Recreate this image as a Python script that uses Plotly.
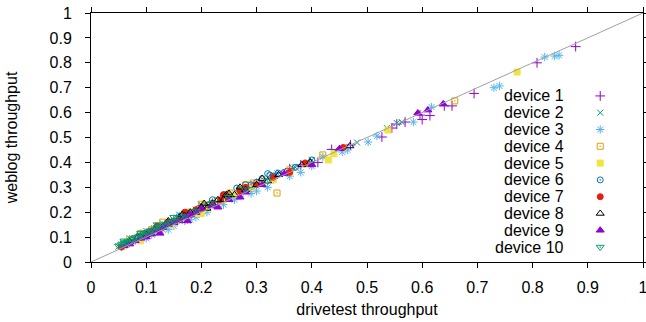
import plotly.graph_objects as go

# ---------------- data ----------------
device_names = ["device 1", "device 2", "device 3", "device 4", "device 5",
                "device 6", "device 7", "device 8", "device 9", "device 10"]

x1 = [0.06, 0.08, 0.10, 0.12, 0.14, 0.17, 0.20, 0.23, 0.26, 0.29, 0.30, 0.33, 0.36, 0.38,
      0.411, 0.436, 0.47, 0.527, 0.545, 0.554, 0.569, 0.596, 0.60, 0.614, 0.64, 0.654, 0.694, 0.808, 0.878,
      0.09, 0.15, 0.21, 0.25, 0.07, 0.11, 0.19, 0.24, 0.27]
y1 = [0.07, 0.09, 0.115, 0.13, 0.155, 0.18, 0.215, 0.24, 0.265, 0.30, 0.315, 0.335, 0.375, 0.39,
      0.40, 0.452, 0.47, 0.502, 0.538, 0.554, 0.562, 0.59, 0.572, 0.588, 0.627, 0.627, 0.677, 0.80, 0.865,
      0.11, 0.17, 0.22, 0.27, 0.085, 0.125, 0.20, 0.25, 0.28]

x2 = [0.05, 0.055, 0.06, 0.065, 0.07, 0.08, 0.085, 0.09, 0.10, 0.11, 0.12, 0.13, 0.14, 0.15, 0.16,
      0.18, 0.19, 0.21, 0.23, 0.25, 0.27, 0.29, 0.31, 0.33, 0.366, 0.37, 0.40, 0.44, 0.482, 0.536,
      0.554, 0.563, 0.058, 0.075, 0.095, 0.115, 0.135, 0.17, 0.20, 0.24,
      0.07, 0.10, 0.13, 0.16, 0.20]
y2 = [0.062, 0.07, 0.072, 0.08, 0.085, 0.093, 0.10, 0.105, 0.115, 0.125, 0.135, 0.145, 0.155, 0.165, 0.18,
      0.20, 0.21, 0.225, 0.25, 0.265, 0.29, 0.305, 0.32, 0.34, 0.378, 0.38, 0.41, 0.445, 0.48, 0.538,
      0.558, 0.562, 0.078, 0.095, 0.115, 0.135, 0.15, 0.195, 0.225, 0.26,
      0.095, 0.125, 0.155, 0.19, 0.23]

x3 = [0.055, 0.07, 0.09, 0.11, 0.13, 0.15, 0.17, 0.19, 0.21, 0.24, 0.27, 0.30, 0.32, 0.337, 0.36,
      0.38, 0.40, 0.42, 0.455, 0.465, 0.502, 0.518, 0.584, 0.617, 0.73, 0.74, 0.822, 0.84, 0.848,
      0.08, 0.12, 0.16, 0.22, 0.10, 0.14, 0.18, 0.26, 0.29]
y3 = [0.06, 0.075, 0.095, 0.11, 0.13, 0.145, 0.165, 0.18, 0.20, 0.23, 0.265, 0.285, 0.30, 0.357, 0.345,
      0.36, 0.385, 0.422, 0.442, 0.45, 0.482, 0.506, 0.562, 0.622, 0.70, 0.707, 0.823, 0.827, 0.83,
      0.09, 0.14, 0.185, 0.24, 0.095, 0.13, 0.17, 0.25, 0.275]

x4 = [0.06, 0.08, 0.10, 0.12, 0.14, 0.176, 0.19, 0.21, 0.23, 0.246, 0.252, 0.27, 0.294, 0.31,
      0.337, 0.36, 0.39, 0.42, 0.659, 0.07, 0.11, 0.155, 0.09, 0.13, 0.20, 0.28]
y4 = [0.072, 0.095, 0.112, 0.135, 0.155, 0.20, 0.20, 0.228, 0.245, 0.269, 0.277, 0.29, 0.317, 0.325,
      0.277, 0.37, 0.395, 0.43, 0.647, 0.09, 0.13, 0.175, 0.115, 0.16, 0.232, 0.31]

x5 = [0.06, 0.08, 0.10, 0.12, 0.145, 0.17, 0.19, 0.22, 0.24, 0.26, 0.29, 0.31, 0.33, 0.36,
      0.43, 0.44, 0.538, 0.772, 0.07, 0.11, 0.155, 0.205, 0.09, 0.20, 0.27]
y5 = [0.065, 0.09, 0.11, 0.135, 0.15, 0.18, 0.195, 0.235, 0.25, 0.27, 0.30, 0.315, 0.33, 0.36,
      0.41, 0.435, 0.53, 0.763, 0.078, 0.118, 0.165, 0.215, 0.085, 0.195, 0.295]

x6 = [0.06, 0.09, 0.12, 0.15, 0.18, 0.212, 0.24, 0.264, 0.27, 0.29, 0.30, 0.31, 0.324, 0.33,
      0.339, 0.35, 0.37, 0.40, 0.075, 0.105, 0.135, 0.165, 0.195, 0.22, 0.28, 0.32]
y6 = [0.07, 0.10, 0.13, 0.165, 0.195, 0.229, 0.27, 0.297, 0.29, 0.31, 0.32, 0.335, 0.349, 0.345,
      0.357, 0.36, 0.38, 0.41, 0.09, 0.12, 0.15, 0.185, 0.215, 0.25, 0.31, 0.355]

x7 = [0.055, 0.07, 0.09, 0.11, 0.13, 0.16, 0.18, 0.20, 0.22, 0.25, 0.27, 0.30, 0.33, 0.36, 0.388, 0.457,
      0.065, 0.10, 0.14, 0.19, 0.235, 0.28, 0.12, 0.17, 0.24]
y7 = [0.06, 0.08, 0.10, 0.12, 0.14, 0.17, 0.19, 0.215, 0.235, 0.26, 0.285, 0.31, 0.34, 0.36, 0.398, 0.46,
      0.075, 0.115, 0.16, 0.21, 0.25, 0.30, 0.145, 0.20, 0.27]

x8 = [0.07, 0.10, 0.13, 0.15, 0.17, 0.18, 0.19, 0.20, 0.21, 0.22, 0.24, 0.26, 0.28, 0.30, 0.32,
      0.34, 0.382, 0.397, 0.469, 0.085, 0.115, 0.14, 0.16, 0.23, 0.25,
      0.165, 0.205, 0.245, 0.27, 0.31]
y8 = [0.08, 0.11, 0.14, 0.16, 0.185, 0.20, 0.20, 0.22, 0.215, 0.235, 0.25, 0.27, 0.29, 0.31, 0.325,
      0.35, 0.39, 0.40, 0.466, 0.10, 0.13, 0.165, 0.18, 0.25, 0.275,
      0.19, 0.235, 0.27, 0.30, 0.335]

x9 = [0.06, 0.08, 0.10, 0.12, 0.14, 0.16, 0.18, 0.20, 0.22, 0.25, 0.28, 0.31, 0.35, 0.40, 0.45,
      0.592, 0.61, 0.638, 0.07, 0.09, 0.11, 0.13, 0.15, 0.17, 0.19, 0.125, 0.175, 0.23, 0.27]
y9 = [0.065, 0.085, 0.10, 0.125, 0.15, 0.165, 0.19, 0.215, 0.225, 0.25, 0.28, 0.31, 0.355, 0.39, 0.455,
      0.598, 0.61, 0.635, 0.072, 0.095, 0.112, 0.14, 0.158, 0.18, 0.198, 0.115, 0.165, 0.22, 0.26]

x10 = [0.05, 0.06, 0.07, 0.075, 0.085, 0.095, 0.105, 0.115, 0.125, 0.135, 0.15, 0.17, 0.19, 0.22,
       0.25, 0.28, 0.32, 0.055, 0.065, 0.08, 0.09, 0.10, 0.11, 0.12, 0.14, 0.16,
       0.06, 0.09, 0.12, 0.15]
y10 = [0.065, 0.075, 0.082, 0.09, 0.098, 0.11, 0.12, 0.13, 0.14, 0.15, 0.165, 0.185, 0.205, 0.235,
       0.26, 0.29, 0.325, 0.07, 0.08, 0.098, 0.108, 0.118, 0.128, 0.14, 0.158, 0.178,
       0.085, 0.115, 0.15, 0.18]

diagonal = [0, 1]
tick_vals = [0, 0.1, 0.2, 0.3, 0.4, 0.5, 0.6, 0.7, 0.8, 0.9, 1]
tick_text = ["0", "0.1", "0.2", "0.3", "0.4", "0.5", "0.6", "0.7", "0.8", "0.9", "1"]
legend_rows = list(range(1, 11))

# ---------------- styles ----------------
colors = ["#9400D3", "#009E73", "#56B4E9", "#E69F00", "#F0E442",
          "#0072B2", "#E51E10", "#000000", "#9400D3", "#009E73"]
symbols = ["cross-thin-open", "x-thin-open", "asterisk-open", "square-open-dot", "square",
           "circle-open-dot", "circle", "triangle-up-open", "triangle-up", "triangle-down-open-dot"]
sizes = [7, 6, 7, 6, 6, 6, 6, 7, 7, 7]

xs = [x1, x2, x3, x4, x5, x6, x7, x8, x9, x10]
ys = [y1, y2, y3, y4, y5, y6, y7, y8, y9, y10]

FONT = "Liberation Sans, Arial, sans-serif"

fig = go.Figure()
for i in range(10):
    fig.add_trace(go.Scatter(
        x=xs[i], y=ys[i], mode="markers", name=device_names[i], showlegend=False,
        marker=dict(symbol=symbols[i], size=sizes[i], color=colors[i],
                    line=dict(width=1, color=colors[i])),
        xaxis="x", yaxis="y", hoverinfo="skip"))

fig.add_trace(go.Scatter(x=diagonal, y=diagonal, mode="lines", showlegend=False,
                         line=dict(color="#A0A0A0", width=1), hoverinfo="skip"))

# legend keys (gnuplot style: text left, sample right)
for i in range(10):
    fig.add_trace(go.Scatter(
        x=[0], y=[legend_rows[i]], mode="markers", showlegend=False,
        marker=dict(symbol=symbols[i], size=sizes[i], color=colors[i],
                    line=dict(width=1, color=colors[i])),
        xaxis="x2", yaxis="y2", hoverinfo="skip"))

annotations = []
for i in range(10):
    annotations.append(dict(text=device_names[i], xref="paper", yref="y2",
                            x=0.8605, y=legend_rows[i], xanchor="right", yanchor="middle",
                            showarrow=False, font=dict(family=FONT, size=16, color="black")))

axis_common = dict(range=[0, 1], tickvals=tick_vals, ticktext=tick_text, ticks="outside",
                   ticklen=5, tickwidth=1, tickcolor="black", showline=True, linecolor="black",
                   linewidth=1, mirror="ticks", showgrid=False, zeroline=False, automargin=False,
                   ticklabeloverflow="allow",
                   tickfont=dict(family=FONT, size=16, color="black"))

fig.update_layout(
    width=646, height=322,
    margin=dict(l=91, r=3, t=13, b=60),
    paper_bgcolor="white", plot_bgcolor="white",
    showlegend=False,
    font=dict(family=FONT, size=16, color="black"),
    xaxis=dict(**axis_common, domain=[0, 1], anchor="y", ticklabelstandoff=6,
               title=dict(text="drivetest throughput", standoff=8,
                          font=dict(family=FONT, size=16, color="black"))),
    yaxis=dict(**axis_common, domain=[0, 1], anchor="x", ticklabelstandoff=10,
               title=dict(text="weblog throughput", standoff=27,
                          font=dict(family=FONT, size=16, color="black"))),
    xaxis2=dict(domain=[0.90, 0.945], range=[-1, 1], visible=False, anchor="y2"),
    yaxis2=dict(domain=[0.0263, 0.7007], range=[10.5, 0.5], visible=False, anchor="x2"),
    annotations=annotations,
)

fig.write_html("out.html", config={"displayModeBar": False},
               post_script="document.body.style.margin='0';")
